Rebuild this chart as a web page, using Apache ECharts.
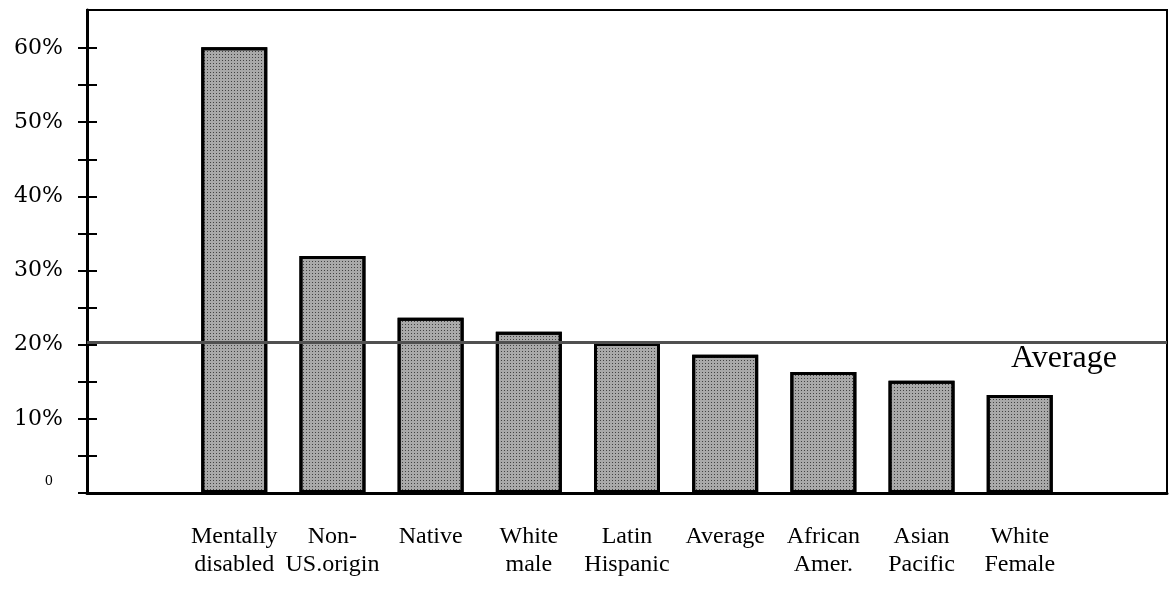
<!DOCTYPE html>
<html>
<head>
<meta charset="utf-8">
<script src="https://cdn.jsdelivr.net/npm/echarts@6/dist/echarts.min.js"></script>
<style>
  html, body { margin: 0; padding: 0; background: #fff; }
  #chart { width: 1171px; height: 602px; }
</style>
</head>
<body>
<div id="chart"></div>
<script>
// categories (empty slots at both ends keep the bars where the original puts them)
const categories = ["", "Mentally\ndisabled", "Non-\nUS.origin", "Native", "White\nmale",
  "Latin\nHispanic", "Average", "African\nAmer.", "Asian\nPacific", "White\nFemale", ""];
const rates = [null, 60, 31.9, 23.6, 21.7, 20.2, 18.6, 16.3, 15.1, 13.2, null];
const averageRate = 20.3;
const averageLabel = "Average";

const chart = echarts.init(document.getElementById("chart"));

const serif = "Liberation Serif";

let option = {
  animation: false,
  grid: [
    // main plot, frame reaches 65%
    { left: 87, right: 4, top: 10, bottom: 109, show: true, borderColor: "#000", borderWidth: 2 },
    // tick axis, 0-60%
    { left: 87, right: 4, top: 48, bottom: 109 },
  ],
  xAxis: [
    {
      gridIndex: 0,
      type: "category",
      data: categories,
      axisLine: { lineStyle: { color: "#000", width: 3 } },
      axisTick: { show: false },
      axisLabel: {
        interval: 0,
        margin: 30,
        color: "#000",
        fontFamily: serif,
        fontSize: 24,
        lineHeight: 28,
      },
    },
    { gridIndex: 1, type: "category", data: categories, show: false },
  ],
  yAxis: [
    {
      gridIndex: 0,
      type: "value",
      position: "left",
      min: 0,
      max: 65,
      axisLine: { show: true, lineStyle: { color: "#000", width: 3 } },
      axisTick: { show: false },
      axisLabel: { show: false },
      splitLine: { show: false },
    },
    {
      gridIndex: 1,
      type: "value",
      position: "left",
      min: 0,
      max: 60,
      interval: 5,
      axisLine: { show: false },
      axisTick: { show: true, length: 9, lineStyle: { color: "#000", width: 2 } },
      splitLine: { show: false },
      axisLabel: {
        margin: 24,
        color: "#000",
        fontFamily: "DejaVu Serif",
        fontSize: 22,
        formatter: function (v) {
          if (v === 0) return "{z|0}";
          return v % 10 === 0 ? v + "%" : "";
        },
        rich: {
          z: { fontSize: 13, fontFamily: "DejaVu Serif", color: "#000", padding: [0, 10, 22, 0] },
        },
      },
    },
    {
      gridIndex: 1,
      type: "value",
      position: "left",
      min: 0,
      max: 60,
      interval: 5,
      axisLine: { show: false },
      axisTick: { show: true, inside: true, length: 10, lineStyle: { color: "#000", width: 2 } },
      axisLabel: { show: false },
      splitLine: { show: false },
    },
  ],
  series: [
    {
      type: "bar",
      xAxisIndex: 0,
      yAxisIndex: 0,
      data: rates,
      barWidth: 66,
      itemStyle: {
        color: "#a9a9a9",
        borderColor: "#000",
        borderWidth: 3,
        decal: {
          symbol: "rect",
          symbolSize: 1,
          color: "rgba(0,0,0,0.6)",
          dashArrayX: [1, 2],
          dashArrayY: [1, 2],
        },
      },
      markLine: {
        silent: true,
        symbol: "none",
        lineStyle: { color: "#505050", width: 3, type: "solid" },
        label: {
          show: true,
          position: "insideEndBottom",
          distance: [50, 0],
          formatter: averageLabel,
          color: "#000",
          fontFamily: serif,
          fontSize: 32,
        },
        data: [{ yAxis: averageRate }],
      },
    },
  ],
};

chart.setOption(option);
</script>
</body>
</html>
